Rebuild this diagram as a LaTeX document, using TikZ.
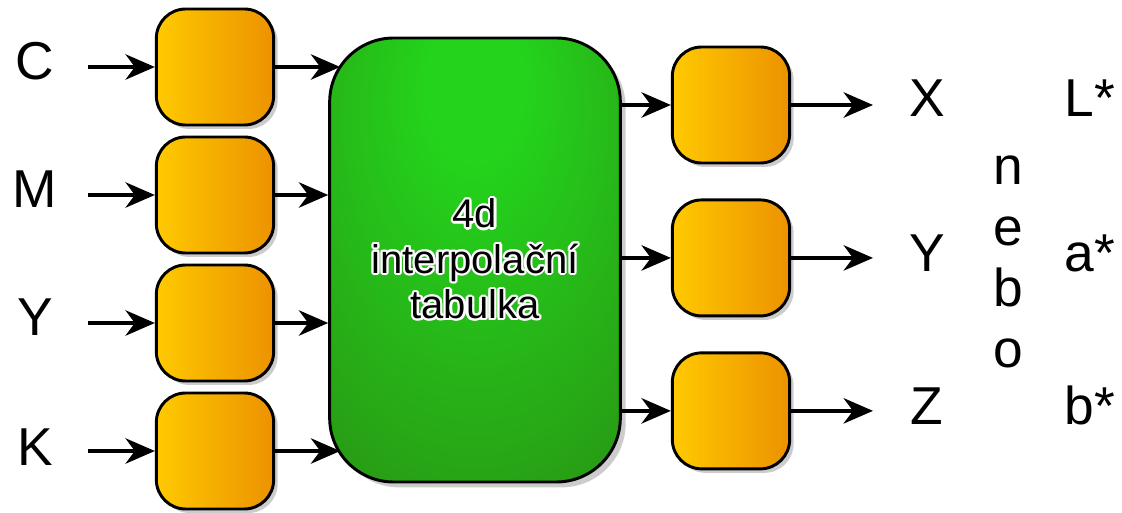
\documentclass[tikz,border=0pt]{standalone}
\usepackage{fontspec}
\setmainfont{Liberation Sans}
\usepackage{tikz}
\usepackage{contour}
\usetikzlibrary{arrows.meta, positioning, shadows, calc}
\definecolor{boxyellow}{RGB}{255, 201, 0}
\definecolor{boxorange}{RGB}{236, 146, 0}
\definecolor{lutlight}{RGB}{36, 212, 28}
\definecolor{lutmid}{RGB}{40, 165, 22}
\definecolor{lutdark}{RGB}{36, 118, 14}
\contourlength{1.6pt}
\pgfdeclareradialshading{lutglow}{\pgfpoint{0bp}{22bp}}{%
  color(0bp)=(lutlight); color(8bp)=(lutlight); color(36bp)=(lutmid); color(62bp)=(lutdark); color(80bp)=(lutdark)}

\begin{document}
\begin{tikzpicture}[
    x=0.75pt, y=-0.75pt,
    block/.style={draw, line width=2.2pt, rounded corners=22pt, minimum width=88pt, minimum height=87pt,
        left color=boxyellow, right color=boxorange,
        drop shadow={shadow xshift=3pt, shadow yshift=-3pt, fill=black!40}},
    lut/.style={draw, line width=2.2pt, rounded corners=48pt, minimum width=218pt, minimum height=333pt,
        shading=lutglow,
        drop shadow={shadow xshift=4pt, shadow yshift=-4pt, fill=black!40},
        align=center, font=\fontsize{30}{34}\selectfont},
    sig/.style={font=\fontsize{40}{46}\selectfont, anchor=base},
    edge/.style={line width=3pt, -{Stealth[length=22pt, width=19pt, inset=7pt]}},
]
\useasboundingbox (0,0) rectangle (1122,513);

% Lookup table
\node[lut] (lut) at (475,260) {\contour{white}{4d}\\\contour{white}{interpolační}\\\contour{white}{tabulka}};

% Input blocks
\node[block] (in1) at (215,67) {};
\node[block, below=6.8pt of in1] (in2) {};
\node[block, below=6.8pt of in2] (in3) {};
\node[block, below=6.8pt of in3] (in4) {};

% Output blocks
\node[block] (out1) at (731,105) {};
\node[block, below=25.5pt of out1] (out2) {};
\node[block, below=25.5pt of out2] (out3) {};

% Input labels
\node[sig] (lc) at (35,80) {C};
\node[sig] (lm) at (35,208) {M};
\node[sig] (ly) at (35,336) {Y};
\node[sig] (lk) at (35,465) {K};

% Output labels
\node[sig] (lx) at (927,117) {X};
\node[sig] (lyy) at (927,272) {Y};
\node[sig] (lz) at (927,425) {Z};
\node[sig] (ll) at (1090,117) {L*};
\node[sig] (la) at (1090,272) {a*};
\node[sig] (lb) at (1090,425) {b*};
\node[font=\fontsize{40}{45.75}\selectfont, align=center] (nebo) at (1008,262) {n\\e\\b\\o};

% Free ends
\coordinate (xin) at (88,0);
\coordinate (xout) at (873,0);

% Edges
\draw[edge] (in1.west -| xin) -- (in1.west);
\draw[edge] (in2.west -| xin) -- (in2.west);
\draw[edge] (in3.west -| xin) -- (in3.west);
\draw[edge] (in4.west -| xin) -- (in4.west);
\draw[edge] (in1.east) -- ($(in1.east -| lut.west)+(12,0)$);
\draw[edge] (in2.east) -- (in2.east -| lut.west);
\draw[edge] (in3.east) -- (in3.east -| lut.west);
\draw[edge] (in4.east) -- ($(in4.east -| lut.west)+(12,0)$);
\draw[edge] (out1.west -| lut.east) -- (out1.west);
\draw[edge] (out2.west -| lut.east) -- (out2.west);
\draw[edge] (out3.west -| lut.east) -- (out3.west);
\draw[edge] (out1.east) -- (out1.east -| xout);
\draw[edge] (out2.east) -- (out2.east -| xout);
\draw[edge] (out3.east) -- (out3.east -| xout);

\end{tikzpicture}
\end{document}
